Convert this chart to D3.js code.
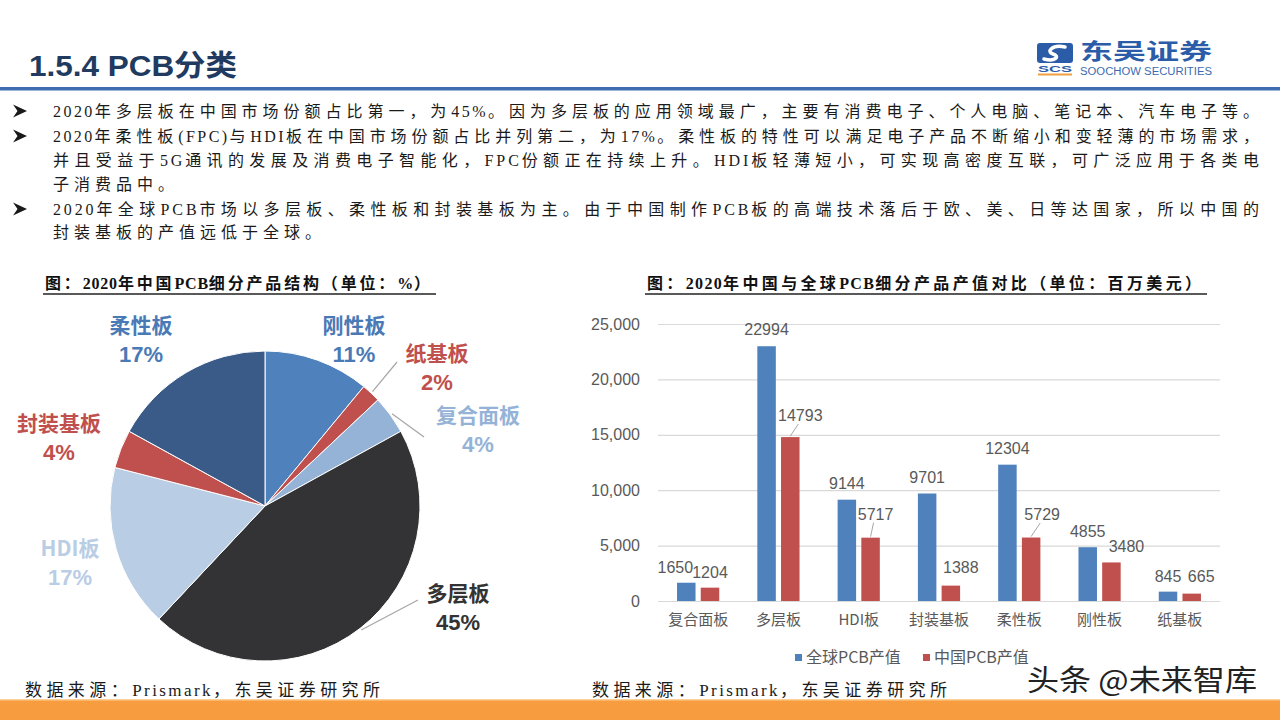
<!DOCTYPE html>
<html><head><meta charset="utf-8">
<script src="https://cdn.jsdelivr.net/npm/d3@7"></script>
<style>body{margin:0;background:#fff}</style>
</head><body><svg id="c" width="1280" height="720"></svg>
<script>
// ---------- data ----------
const bulletLines = [
  "2020年多层板在中国市场份额占比第一，为45%。因为多层板的应用领域最广，主要有消费电子、个人电脑、笔记本、汽车电子等。",
  "2020年柔性板(FPC)与HDI板在中国市场份额占比并列第二，为17%。柔性板的特性可以满足电子产品不断缩小和变轻薄的市场需求，",
  "并且受益于5G通讯的发展及消费电子智能化，FPC份额正在持续上升。HDI板轻薄短小，可实现高密度互联，可广泛应用于各类电",
  "子消费品中。",
  "2020年全球PCB市场以多层板、柔性板和封装基板为主。由于中国制作PCB板的高端技术落后于欧、美、日等达国家，所以中国的",
  "封装基板的产值远低于全球。"
];
const bulletFlags = [true, true, false, false, true, false];

const pieCategories = ["刚性板", "纸基板", "复合面板", "多层板", "HDI板", "封装基板", "柔性板"];
const pieValues = [11, 2, 4, 45, 17, 4, 17];

const barCategories = ["复合面板", "多层板", "HDI板", "封装基板", "柔性板", "刚性板", "纸基板"];
const globalValues = [1650, 22994, 9144, 9701, 12304, 4855, 845];
const chinaValues = [1204, 14793, 5717, 1388, 5729, 3480, 665];
const seriesNames = ["全球PCB产值", "中国PCB产值"];
const yTicks = [0, 5000, 10000, 15000, 20000, 25000];

const pieTitle = "图：2020年中国PCB细分产品结构（单位：%）";
const barTitle = "图：2020年中国与全球PCB细分产品产值对比（单位：百万美元）";
const sourceText = "数据来源：Prismark，东吴证券研究所";

// ---------- layout / style ----------
const SANS = "'Liberation Sans','Noto Sans CJK SC',sans-serif";
const SERIF = "'Liberation Serif','Noto Sans CJK SC',serif";
const CJK = "'Noto Sans CJK SC',sans-serif";
const pieColors = ["#4f81bd", "#c0504d", "#95b3d7", "#333335", "#b9cde5", "#c0504d", "#3a5b88"];
const pieLabelColors = ["#4a7ab6", "#c0504d", "#95b3d7", "#333333", "#b9cde5", "#c0504d", "#4a7ab6"];
const pieLabelPos = [[354, 325], [437, 353], [478, 415], [458, 593], [70, 548], [59, 423], [141, 325]];
const pieLeaderEnd = [null, [397, 362], [424, 437], [418, 600], null, null, null];
const seriesColors = ["#4f81bd", "#c0504d"];
const globalLabelShift = [[-11, 16], [0, 17], [0, 17], [0, 17], [0, 17], [0, 16.5], [0, 16]];
const chinaLabelShift = [[0, 16], [10, 22], [5, 24], [10, 19], [11, 23.5], [15, 16.5], [9.5, 17.5]];
const chinaLeader = [false, true, true, false, true, false, false];

const svg = d3.select("#c");
svg.append("rect").attr("width", 1280).attr("height", 720).attr("fill", "#fff");

// text with separate spacing for CJK and Latin runs
function spacedText(parent, x, yb, text, opts) {
  const t = parent.append("text").attr("x", x).attr("y", yb)
    .attr("font-family", opts.family).attr("font-size", opts.size)
    .attr("font-weight", opts.weight || "normal").attr("fill", opts.fill || "#1a1a1a");
  (text.match(/[\x00-\x7F]+|[^\x00-\x7F]+/g) || []).forEach(run => {
    const latin = /^[\x00-\x7F]/.test(run);
    t.append("tspan").attr("letter-spacing", latin ? opts.latin : opts.cjk).text(run);
  });
  if (opts.fit) t.attr("textLength", opts.fit).attr("lengthAdjust", "spacing");
  return t;
}

// ---------- header ----------
svg.append("text").attr("x", 29).attr("y", 76)
  .attr("font-family", SANS).attr("font-weight", "bold").attr("font-size", 29)
  .attr("fill", "#203a60").attr("textLength", 208).attr("lengthAdjust", "spacingAndGlyphs")
  .text("1.5.4 PCB分类");
svg.append("rect").attr("x", 0).attr("y", 87).attr("width", 1280).attr("height", 3.5).attr("fill", "#3d6db0");

// logo
const logo = svg.append("g");
logo.append("rect").attr("x", 1037).attr("y", 43).attr("width", 36).attr("height", 20).attr("rx", 3).attr("fill", "#2b5ca8");
logo.append("path").attr("d", "M1065,47 C1052,44 1046,52 1053,54 C1060,56 1056,62 1044,59")
  .attr("fill", "none").attr("stroke", "#fff").attr("stroke-width", 3.5).attr("stroke-linecap", "round");
logo.append("text").attr("x", 1055).attr("y", 72).attr("text-anchor", "middle")
  .attr("font-family", SANS).attr("font-weight", "bold").attr("font-size", 9).attr("fill", "#2b5ca8")
  .attr("textLength", 34).attr("lengthAdjust", "spacingAndGlyphs").text("SCS");
logo.append("rect").attr("x", 1038).attr("y", 73.5).attr("width", 34).attr("height", 2).attr("fill", "#f0a040");
logo.append("text").attr("x", 1080).attr("y", 59)
  .attr("font-family", CJK).attr("font-weight", "bold").attr("font-size", 22).attr("fill", "#2b5ca8")
  .attr("textLength", 132).attr("lengthAdjust", "spacingAndGlyphs").text("东吴证券");
logo.append("text").attr("x", 1080).attr("y", 75)
  .attr("font-family", SANS).attr("font-size", 10).attr("fill", "#3b6cb0")
  .attr("textLength", 132).attr("lengthAdjust", "spacingAndGlyphs").text("SOOCHOW SECURITIES");

// ---------- bullet text ----------
const lineY = [111, 136, 160, 184, 209, 232];
bulletLines.forEach((t, i) => {
  if (bulletFlags[i]) {
    svg.append("path").attr("transform", `translate(0,${lineY[i]})`)
      .attr("d", "M13,-6.5 L27,0 L13,6.5 L17.5,0 Z").attr("fill", "#1a1a1a");
  }
  spacedText(svg, 53, lineY[i] + 6, t, {
    family: SERIF, size: 16, cjk: 5, latin: 2.5,
    fit: t.length > 30 ? 1211 : null
  });
});

// ---------- chart titles ----------
function chartTitle(x, w, text) {
  spacedText(svg, x, 289, text, { family: SERIF, size: 16, weight: "bold", fill: "#111", cjk: 3, latin: 1, fit: w });
  svg.append("line").attr("x1", x - 2).attr("x2", x + w + 3).attr("y1", 294).attr("y2", 294)
    .attr("stroke", "#222").attr("stroke-width", 1.3);
}
chartTitle(45, 388, pieTitle);
chartTitle(647, 557, barTitle);

// ---------- pie ----------
const cx = 265, cy = 506, R = 155;
const pie = d3.pie().sort(null).value(d => d)(pieValues);
const arc = d3.arc().innerRadius(0).outerRadius(R);
const pg = svg.append("g").attr("transform", `translate(${cx},${cy})`);
pg.selectAll("path").data(pie).join("path")
  .attr("d", arc).attr("fill", (d, i) => pieColors[i])
  .attr("stroke", "#fff").attr("stroke-width", 1);

pie.forEach((d, i) => {
  const [lx, ly] = pieLabelPos[i];
  if (pieLeaderEnd[i]) {
    const a = (d.startAngle + d.endAngle) / 2;
    const r0 = R + 2;
    svg.append("line")
      .attr("x1", cx + r0 * Math.sin(a)).attr("y1", cy - r0 * Math.cos(a))
      .attr("x2", pieLeaderEnd[i][0]).attr("y2", pieLeaderEnd[i][1])
      .attr("stroke", "#a6a6a6").attr("stroke-width", 1.2);
  }
  svg.append("text").attr("x", lx).attr("y", ly + 8).attr("text-anchor", "middle")
    .attr("font-family", CJK).attr("font-weight", "bold").attr("font-size", 21)
    .attr("fill", pieLabelColors[i]).text(pieCategories[i]);
  svg.append("text").attr("x", lx).attr("y", ly + 37).attr("text-anchor", "middle")
    .attr("font-family", SANS).attr("font-weight", "bold").attr("font-size", 22)
    .attr("fill", pieLabelColors[i]).text(pieValues[i] + "%");
});

// ---------- bar chart ----------
const x0 = d3.scaleBand().domain(barCategories).range([658, 1220]).padding(0);
const bw = x0.bandwidth();
const x1 = d3.scaleBand().domain(seriesNames).range([bw / 2 - 21.1, bw / 2 + 21.1]).paddingInner(0.22);
const y = d3.scaleLinear().domain([0, 25000]).range([601, 324]);

const grid = svg.append("g").attr("transform", "translate(658,0)")
  .call(d3.axisLeft(y).tickValues(yTicks).tickSize(-562).tickFormat(""));
grid.select(".domain").remove();
grid.selectAll("line").attr("stroke", "#d9d9d9").attr("stroke-width", 1.2);

const yAx = svg.append("g").attr("transform", "translate(658,0)")
  .call(d3.axisLeft(y).tickValues(yTicks).tickSize(0).tickPadding(18).tickFormat(d3.format(",")));
yAx.select(".domain").remove();
yAx.selectAll("text").attr("font-family", SANS).attr("font-size", 16).attr("fill", "#595959");

const xAx = svg.append("g").attr("transform", "translate(0,601)")
  .call(d3.axisBottom(x0).tickSize(0).tickPadding(13));
xAx.select(".domain").remove();
xAx.selectAll("text").attr("font-family", CJK).attr("font-size", 15).attr("fill", "#595959");

const seriesVals = [globalValues, chinaValues];
const shifts = [globalLabelShift, chinaLabelShift];
seriesVals.forEach((vals, s) => {
  const g = svg.append("g");
  g.selectAll("rect").data(vals).join("rect")
    .attr("x", (d, i) => x0(barCategories[i]) + x1(seriesNames[s]))
    .attr("width", x1.bandwidth())
    .attr("y", d => y(d)).attr("height", d => y(0) - y(d))
    .attr("fill", seriesColors[s]);
  vals.forEach((v, i) => {
    const bx = x0(barCategories[i]) + x1(seriesNames[s]) + x1.bandwidth() / 2;
    const [dx, dy] = shifts[s][i];
    const lx = bx + dx, ly = y(v) - dy;
    if (s === 1 && chinaLeader[i]) {
      svg.append("line").attr("x1", bx).attr("y1", y(v) - 1).attr("x2", lx - 2).attr("y2", ly + 9)
        .attr("stroke", "#a6a6a6").attr("stroke-width", 1);
    }
    svg.append("text").attr("x", lx).attr("y", ly + 6).attr("text-anchor", "middle")
      .attr("font-family", SANS).attr("font-size", 16).attr("fill", "#595959").text(v);
  });
});

// legend
const legX = [795, 923];
seriesNames.forEach((n, s) => {
  svg.append("rect").attr("x", legX[s]).attr("y", 654).attr("width", 7).attr("height", 7).attr("fill", seriesColors[s]);
  svg.append("text").attr("x", legX[s] + 11).attr("y", 663)
    .attr("font-family", CJK).attr("font-size", 16).attr("fill", "#595959").text(n);
});

// ---------- sources & footer ----------
[[25, 360], [592, 360]].forEach(([sx, w]) => {
  spacedText(svg, sx, 696, sourceText, { family: SERIF, size: 17, cjk: 5, latin: 3, fit: w });
});
svg.append("text").attr("x", 1027).attr("y", 691)
  .attr("font-family", CJK).attr("font-size", 29).attr("fill", "#222")
  .attr("textLength", 230).attr("lengthAdjust", "spacingAndGlyphs").text("头条 @未来智库");

svg.append("rect").attr("x", 0).attr("y", 700).attr("width", 1280).attr("height", 20).attr("fill", "#f89c40");
svg.append("rect").attr("x", 0).attr("y", 699).attr("width", 1280).attr("height", 1.5).attr("fill", "#fbcf96");
</script></body></html>
